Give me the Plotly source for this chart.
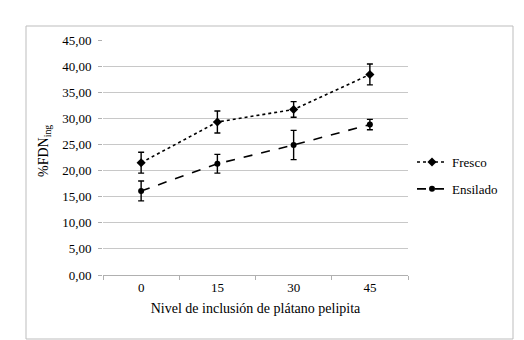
import plotly.graph_objects as go

categories = ["0", "15", "30", "45"]
fresco = [21.5, 29.3, 31.7, 38.4]
fresco_err = [2.0, 2.1, 1.5, 2.0]
ensilado = [16.1, 21.3, 24.9, 28.8]
ensilado_err = [1.9, 1.8, 2.8, 1.0]
y_ticks = [0, 5, 10, 15, 20, 25, 30, 35, 40, 45]

FONT = "Liberation Serif"

fig = go.Figure()
fig.add_trace(go.Scatter(
    x=categories, y=fresco, name="Fresco", mode="lines+markers",
    line=dict(color="black", width=1.6, dash="dot"),
    marker=dict(symbol="diamond", size=7, color="black"),
    error_y=dict(type="data", array=fresco_err, color="black", thickness=1.4, width=3),
    legendgroup="a",
))
fig.add_trace(go.Scatter(
    x=categories, y=ensilado, name="Ensilado", mode="lines+markers",
    line=dict(color="black", width=1.6, dash="dash"),
    marker=dict(symbol="circle", size=6, color="black"),
    error_y=dict(type="data", array=ensilado_err, color="black", thickness=1.4, width=3),
    legendgroup="b",
))

L, R, T, B = 95, 124, 32, 73
W, H = 524, 340
pw, ph = W - L - R, H - T - B

def px(x):
    return (x - L) / pw

def py(y):
    return (H - B - y) / ph

fig.update_layout(
    width=W, height=H,
    margin=dict(l=L, r=R, t=T, b=B, autoexpand=False),
    paper_bgcolor="white", plot_bgcolor="white",
    font=dict(family=FONT, size=13, color="black"),
    separators=",.",
    showlegend=True,
    legend=dict(x=px(404), y=py(139), xanchor="left", yanchor="top",
                font=dict(size=13, family=FONT), tracegroupgap=7,
                traceorder="grouped", bgcolor="rgba(0,0,0,0)", itemwidth=30),
    xaxis=dict(
        type="category", tickson="boundaries", ticks="outside", ticklen=4,
        tickcolor="#b0b0b0", showline=True, linecolor="#b0b0b0", linewidth=1,
        showgrid=False, tickfont=dict(size=13, family=FONT),
        title=dict(text="Nivel de inclusión de plátano pelipita",
                   font=dict(size=14, family=FONT), standoff=9),
        automargin=False, range=[-0.5, 3.5],
    ),
    yaxis=dict(
        range=[0, 45], tickvals=y_ticks, tickformat=".2f",
        showgrid=True, gridcolor="#c8c8c8", gridwidth=1,
        ticks="outside", ticklen=4, tickcolor="#b0b0b0", ticklabelstandoff=4,
        showline=False, zeroline=False, tickfont=dict(size=13, family=FONT),
        automargin=False,
    ),
    shapes=[dict(type="rect", xref="paper", yref="paper",
                 x0=px(18), x1=px(505), y0=py(331), y1=py(18),
                 line=dict(color="#bdbdbd", width=1), layer="below")],
    annotations=[dict(text="%FDN<sub>ing</sub>", textangle=-90, xref="paper", yref="paper",
                      x=px(36), y=py(143), xanchor="center", yanchor="middle",
                      showarrow=False, font=dict(size=14, family=FONT))],
)

fig.write_html("out.html")
